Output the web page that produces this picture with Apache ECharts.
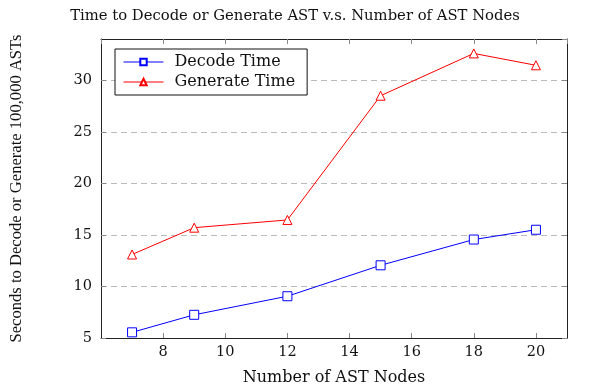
<!DOCTYPE html>
<html><head><meta charset="utf-8">
<script src="https://cdn.jsdelivr.net/npm/echarts@6/dist/echarts.min.js"></script>
<style>html,body{margin:0;padding:0;background:#fff}#c{width:600px;height:391px}</style>
</head><body><div id="c"></div>
<script>
const nodes = [7, 9, 12, 15, 18, 20];
const decodeTime = [5.55, 7.25, 9.05, 12.05, 14.55, 15.5];
const generateTime = [13.1, 15.7, 16.45, 28.5, 32.6, 31.45];
const seriesNames = ['Decode Time', 'Generate Time'];
const titleText = 'Time to Decode or Generate AST v.s. Number of AST Nodes';
const xName = 'Number of AST Nodes';
const yName = 'Seconds to Decode or Generate 100,000 ASTs';

const FONT = 'DejaVu Serif';
const chart = echarts.init(document.getElementById('c'));
const pair = (xs, ys) => xs.map((x, i) => [x, ys[i]]);
const axisLine = {lineStyle: {color: '#222', width: 1}};
const tick = {show: true, inside: true, length: 5, lineStyle: {color: '#888', width: 1}};
chart.setOption({
  animation: false,
  backgroundColor: '#fff',
  title: {text: titleText, left: 290, top: 4, textAlign: 'center',
    textStyle: {fontFamily: FONT, fontSize: 14.8, fontWeight: 'normal', color: '#111'}},
  legend: {
    left: 115, top: 49, orient: 'vertical', itemWidth: 40, itemHeight: 8, itemGap: 4,
    padding: [5, 12, 5, 8], borderColor: '#111', borderWidth: 1, backgroundColor: '#fff',
    lineStyle: {width: 1},
    textStyle: {fontFamily: FONT, fontSize: 16, color: '#111', padding: [0, 0, 0, 6]},
    data: seriesNames
  },
  grid: {left: 101, right: 33, top: 39, bottom: 51, containLabel: false},
  xAxis: [{
    type: 'value', min: 6, max: 21, interval: 2,
    name: xName, nameLocation: 'middle', nameGap: 32,
    nameTextStyle: {fontFamily: FONT, fontSize: 16, color: '#111'},
    axisLine: axisLine, axisTick: tick, splitLine: {show: false},
    axisLabel: {fontFamily: FONT, fontSize: 14.5, color: '#111', margin: 7, showMinLabel: false, showMaxLabel: false}
  }, {
    type: 'value', position: 'top', min: 6, max: 21, interval: 2,
    axisLine: axisLine, axisTick: tick, axisLabel: {show: false}, splitLine: {show: false}
  }],
  yAxis: [{
    type: 'value', min: 5, max: 34, interval: 5,
    name: yName, nameLocation: 'middle', nameGap: 76,
    nameTextStyle: {fontFamily: 'Liberation Serif', fontSize: 16.6, color: '#111'},
    axisLine: {show: true, lineStyle: {color: '#222', width: 1}}, axisTick: tick,
    splitLine: {show: true, lineStyle: {color: '#bbb', type: [6, 4], width: 1}},
    axisLabel: {fontFamily: FONT, fontSize: 14.5, color: '#111', margin: 9, showMaxLabel: false}
  }, {
    type: 'value', position: 'right', min: 5, max: 34, interval: 5,
    axisLine: {show: true, lineStyle: {color: '#222', width: 1}}, axisTick: tick,
    axisLabel: {show: false}, splitLine: {show: false}
  }],
  series: [{
    name: seriesNames[0], type: 'line', data: pair(nodes, decodeTime),
    symbol: 'rect', symbolSize: 9, color: '#0000ff',
    lineStyle: {width: 1, color: '#0000ff'},
    itemStyle: {color: '#fff', borderColor: '#0000ff', borderWidth: 1}
  }, {
    name: seriesNames[1], type: 'line', data: pair(nodes, generateTime),
    symbol: 'triangle', symbolSize: 9, color: '#ff0000',
    lineStyle: {width: 1, color: '#ff0000'},
    itemStyle: {color: '#fff', borderColor: '#ff0000', borderWidth: 1}
  }]
});
</script></body></html>
